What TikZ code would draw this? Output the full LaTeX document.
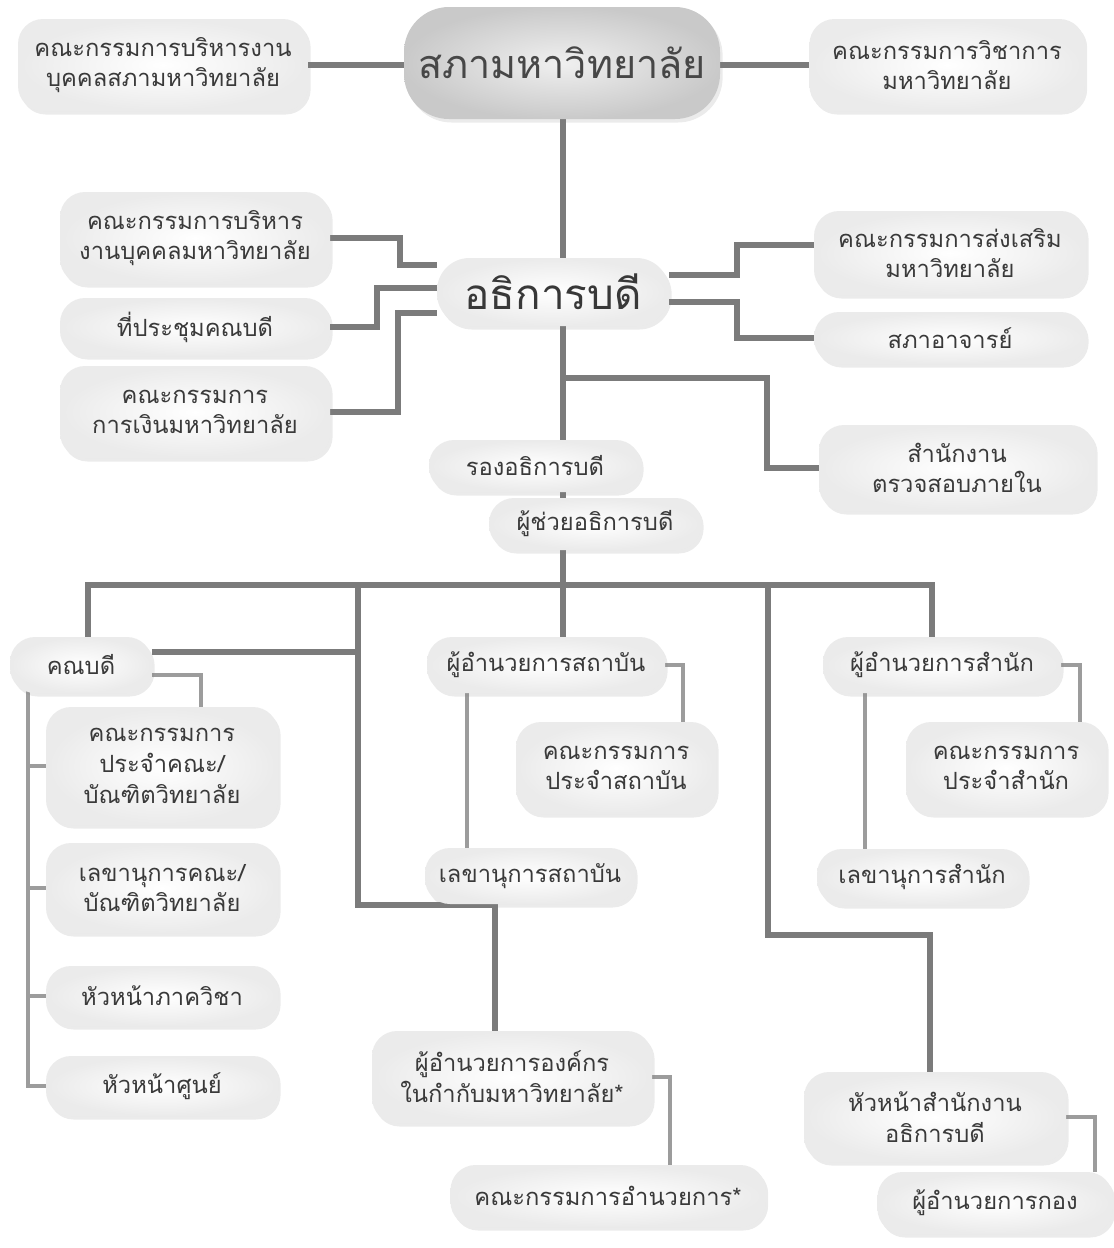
\documentclass[tikz,border=0pt]{standalone}
\usepackage{fontspec}
\setmainfont[Script=Thai]{Loma}
\usetikzlibrary{positioning, shadows, backgrounds}

\definecolor{linegray}{HTML}{7B7B7B}
\definecolor{subgray}{HTML}{9C9C9C}
\definecolor{txtgray}{HTML}{3A3A3A}

\tikzset{
  unit/.style={rounded corners=0.5cm, inner color=white, outer color=gray!16,
    align=center, text=txtgray, inner sep=2pt, font=\fontsize{13.5}{17.5}\selectfont,
    drop shadow={opacity=0.16, shadow xshift=1.5pt, shadow yshift=-2pt}},
  topunit/.style={unit, inner color=gray!12, outer color=gray!42,
    rounded corners=0.9cm, text=black!72, font=\fontsize{22.5}{27}\selectfont},
  presunit/.style={unit, rounded corners=0.65cm, text=black!78,
    font=\fontsize{24}{28}\selectfont},
  sz/.style 2 args={minimum width=#1*0.02cm, minimum height=#2*0.02cm},
  mainline/.style={draw=linegray, line width=3pt},
  subline/.style={draw=subgray, line width=1.8pt},
}

\begin{document}
\begin{tikzpicture}[x=0.02cm, y=-0.02cm]
    \useasboundingbox (0,0) rectangle (1113,1248);

    % top row
    \node [topunit, sz={316}{112}] (council) at (562,63) {สภามหาวิทยาลัย};
    \node [unit, sz={290}{92}] (pcouncil) at (163,65) {คณะกรรมการบริหารงาน\\บุคคลสภามหาวิทยาลัย};
    \node [unit, sz={275}{92}] (acouncil) at (947,65) {คณะกรรมการวิชาการ\\มหาวิทยาลัย};

    % president and boards
    \node [presunit, sz={232}{68}] (pres) at (553,292) {อธิการบดี};
    \node [unit, sz={270}{92}] (pboard) at (195,238) {คณะกรรมการบริหาร\\งานบุคคลมหาวิทยาลัย};
    \node [unit, sz={270}{58}] (deans) at (195,327) {ที่ประชุมคณบดี};
    \node [unit, sz={270}{92}] (fboard) at (195,412) {คณะกรรมการ\\การเงินมหาวิทยาลัย};
    \node [unit, sz={272}{84}] (promo) at (950,253) {คณะกรรมการส่งเสริม\\มหาวิทยาลัย};
    \node [unit, sz={272}{52}] (senate) at (950,338) {สภาอาจารย์};
    \node [unit, sz={276}{86}] (audit) at (957,468) {สำนักงาน\\ตรวจสอบภายใน};
    \node [unit, sz={212}{52}] (vp) at (535,466) {รองอธิการบดี};
    \node [unit, sz={212}{52}] (ap) at (595,524) {ผู้ช่วยอธิการบดี};
    \coordinate (hub) at (563,585);

    % faculties
    \node [unit, sz={142}{56}] (dean) at (81,665) {คณบดี};
    \node [unit, sz={232}{118}] (fcomm) at (162,766) {คณะกรรมการ\\ประจำคณะ/\\บัณฑิตวิทยาลัย};
    \node [unit, sz={232}{90}] (fsec) at (162,888) {เลขานุการคณะ/\\บัณฑิตวิทยาลัย};
    \node [unit, sz={232}{60}] (dhead) at (162,996) {หัวหน้าภาควิชา};
    \node [unit, sz={232}{60}] (chead) at (162,1086) {หัวหน้าศูนย์};

    % institutes
    \node [unit, sz={238}{56}] (idir) at (546,665) {ผู้อำนวยการสถาบัน};
    \node [unit, sz={200}{92}] (icomm) at (616,768) {คณะกรรมการ\\ประจำสถาบัน};
    \node [unit, sz={210}{56}] (isec) at (530,876) {เลขานุการสถาบัน};

    % offices
    \node [unit, sz={238}{56}] (odir) at (942,665) {ผู้อำนวยการสำนัก};
    \node [unit, sz={200}{92}] (ocomm) at (1006,768) {คณะกรรมการ\\ประจำสำนัก};
    \node [unit, sz={210}{56}] (osec) at (922,877) {เลขานุการสำนัก};

    % bottom row
    \node [unit, sz={280}{92}] (adir) at (512,1077) {ผู้อำนวยการองค์กร\\ในกำกับมหาวิทยาลัย*};
    \node [unit, sz={315}{62}] (acomm) at (608,1196) {คณะกรรมการอำนวยการ*};
    \node [unit, sz={262}{90}] (ohead) at (935,1117) {หัวหน้าสำนักงาน\\อธิการบดี};
    \node [unit, sz={235}{62}] (divdir) at (995,1203) {ผู้อำนวยการกอง};

    \begin{scope}[on background layer]
        \draw [mainline] (pcouncil) -- (council.west |- pcouncil);
        \draw [mainline] (council.east |- acouncil) -- (acouncil);
        \draw [mainline] (council.south -| hub) -- (hub);

        \draw [mainline] (pboard.east) -| (400,265) -- (pres.west |- 0,265);
        \draw [mainline] (deans.east) -| (377,288) -- (pres.west |- 0,288);
        \draw [mainline] (fboard.east) -| (398,313) -- (pres.west |- 0,313);
        \draw [mainline] (pres.east |- 0,275) -| (737,245) -- (promo.west |- 0,245);
        \draw [mainline] (pres.east |- 0,302) -| (737,338) -- (senate.west |- 0,338);
        \draw [mainline] (563,378) -| (767,468) -- (audit.west |- 0,468);

        \draw [mainline] (dean.north -| 88,0) |- (932,585) -- (odir.north -| 932,0);
        \draw [mainline] (hub) -- (idir.north -| hub);
        \draw [mainline] (dean.east |- 0,652) -- (358,652);
        \draw [mainline] (358,585) |- (495,905) -- (adir.north -| 495,0);
        \draw [mainline] (768,585) |- (930,935) -- (ohead.north -| 930,0);

        \draw [subline] (dean.east |- 0,675) -| (fcomm.north -| 201,0);
        \draw [subline] (dean -| 28,0) |- (chead);
        \draw [subline] (fcomm -| 28,0) -- (fcomm);
        \draw [subline] (fsec -| 28,0) -- (fsec);
        \draw [subline] (dhead -| 28,0) -- (dhead);

        \draw [subline] (idir) -| (icomm.north -| 683,0);
        \draw [subline] (idir -| 467,0) -- (isec -| 467,0);
        \draw [subline] (odir) -| (ocomm.north -| 1080,0);
        \draw [subline] (odir -| 865,0) -- (osec -| 865,0);
        \draw [subline] (adir) -| (acomm.north -| 670,0);
        \draw [subline] (ohead) -| (divdir.north -| 1095,0);
    \end{scope}
\end{tikzpicture}
\end{document}
